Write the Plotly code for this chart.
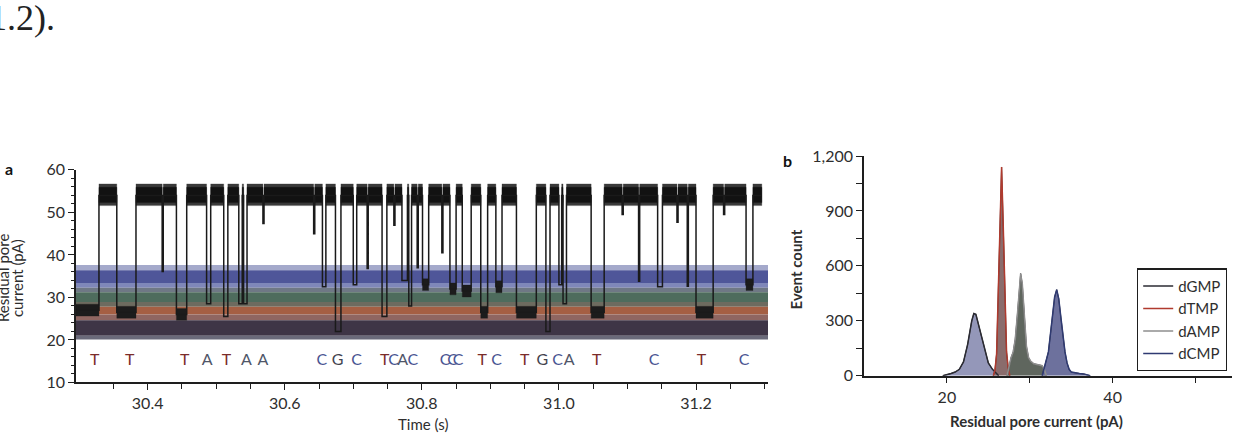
import plotly.graph_objects as go
import numpy as np

# ---------------- Panel a : current trace ----------------
# translocation events (start s, end s, blockade level pA)
ev_start = [30.295, 30.355, 30.442, 30.486, 30.511, 30.533, 30.540, 30.655, 30.674, 30.700,
            30.742, 30.771, 30.781, 30.801, 30.841, 30.859, 30.886, 30.908, 30.938, 30.981,
            31.000, 31.006, 31.047, 31.144, 31.200, 31.273]
ev_end = [30.329, 30.383, 30.457, 30.492, 30.517, 30.538, 30.545, 30.660, 30.682, 30.705,
          30.749, 30.779, 30.785, 30.810, 30.850, 30.872, 30.896, 30.917, 30.967, 30.987,
          31.004, 31.011, 31.066, 31.151, 31.225, 31.283]
ev_level = [27.0, 26.5, 26.0, 28.5, 25.5, 28.5, 28.5, 32.5, 22.0, 33.0,
            25.5, 34.0, 28.0, 33.0, 32.0, 31.5, 26.5, 32.5, 26.5, 22.0,
            33.0, 28.5, 26.5, 32.5, 26.5, 33.0]
# brief partial blockades
dip_time = [30.422, 30.569, 30.643, 30.721, 30.760, 30.794, 30.830, 31.093, 31.117, 31.173, 31.188, 31.241]
dip_level = [36.1, 47.4, 45.0, 36.8, 47.0, 37.0, 40.5, 49.5, 33.8, 47.7, 32.6, 49.5]
open_level = 54.0
open_core = (52.3, 55.9)
open_fringe = (51.6, 56.7)
trace_end = 31.296

# base calls
base_letters = ["T", "T", "T", "A", "T", "A", "A", "C", "G", "C", "T", "C", "A", "C",
                "C", "C", "C", "T", "C", "T", "G", "C", "A", "T", "C", "T", "C"]
base_times = [30.323, 30.374, 30.454, 30.487, 30.515, 30.544, 30.568, 30.654, 30.677, 30.705,
              30.746, 30.759, 30.772, 30.787, 30.834, 30.845, 30.853, 30.888, 30.909, 30.950,
              30.976, 30.998, 31.015, 31.055, 31.139, 31.208, 31.270]
base_y = 15
letter_colors = {"T": "#7a2c2a", "A": "#505668", "C": "#4a5592", "G": "#44444f"}

# coloured current bands (pA)
band_lo = [36.4, 33.4, 32.3, 31.2, 28.9, 27.8, 26.0, 24.6, 21.0, 20.1]
band_hi = [37.6, 36.4, 33.4, 32.3, 31.2, 28.9, 27.8, 26.0, 24.6, 21.0]
band_colors = ["#a4a9cb", "#4f5699", "#7f87b9", "#6f7885", "#4e6c5d",
               "#6d6b5f", "#a55f43", "#8f6661", "#3e3546", "#6a6a7a"]

x_a_ticks = [30.4, 30.6, 30.8, 31.0, 31.2]
x_a_ticktext = ["30.4", "30.6", "30.8", "31.0", "31.2"]
y_a_ticks = [10, 20, 30, 40, 50, 60]

# ---------------- Panel b : histograms ----------------
g_x = [19.5, 20.0, 20.5, 21.0, 21.5, 22.0, 22.5, 23.0, 23.25, 23.5, 24.0, 24.5, 25.0, 25.5, 26.0, 26.25]
g_y = [0, 5, 12, 20, 35, 75, 170, 300, 340, 335, 250, 150, 70, 35, 15, 0]
t_x = [25.6, 25.8, 26.0, 26.2, 26.4, 26.6, 26.8, 27.0, 27.2, 27.4, 27.6]
t_y = [0, 30, 120, 420, 800, 1140, 820, 380, 130, 40, 0]
a_x = [27.25, 27.5, 27.75, 28.0, 28.25, 28.5, 28.75, 28.9, 29.1, 29.35, 29.6, 29.85, 30.1, 30.5, 31.0, 31.5, 31.8, 32.0]
a_y = [0, 60, 100, 130, 200, 330, 500, 558, 500, 300, 160, 100, 80, 65, 62, 55, 30, 0]
c_x = [31.5, 31.75, 32.0, 32.25, 32.5, 32.75, 33.0, 33.25, 33.5, 33.75, 34.0, 34.25, 34.5, 34.75,
       35.0, 35.5, 36.0, 36.5, 37.0, 37.3]
c_y = [0, 40, 80, 130, 230, 340, 430, 470, 420, 320, 220, 130, 70, 35, 20, 15, 12, 10, 6, 0]

names = ["dGMP", "dTMP", "dAMP", "dCMP"]
fill_colors = ["#9497b9", "#8a6c6c", "#5f665e", "#6d719d"]
line_colors = ["#2b2b33", "#b03a2e", "#8e8e8e", "#2f3a72"]

x_b_ticks = [20, 40]
y_b_ticks = [0, 300, 600, 900, 1200]
y_b_ticktext = ["0", "300", "600", "900", "1,200"]

# ---------------------------------------------------------
FONT = "Lato"
TXT = "#2e2e2e"
AX = "#1e1e1e"

fig = go.Figure()

# build the step trace from the events
events = sorted([(s, e, l) for s, e, l in zip(ev_start, ev_end, ev_level)] +
                [(t - 0.0008, t + 0.0008, l) for t, l in zip(dip_time, dip_level)])
xs, ys = [], []
for i, (s, e, l) in enumerate(events):
    if i == 0:
        xs += [s, e, e]
        ys += [l, l, open_level]
    else:
        xs += [s, s, e, e]
        ys += [open_level, l, l, open_level]
xs.append(trace_end)
ys.append(open_level)


def rects(pairs_x, lo, hi):
    px, py = [], []
    for x0, x1 in pairs_x:
        px.extend([x0, x1, x1, x0, x0, None])
        py.extend([lo, lo, hi, hi, lo, None])
    return px, py


open_segs = []
for i, (s, e, l) in enumerate(events):
    nxt = events[i + 1][0] if i + 1 < len(events) else trace_end
    if nxt > e:
        open_segs.append((e, nxt))

# fringe (lighter) and core (dark) of the open-pore noise
for (lo, hi), col in [(open_fringe, "#3a3a3a"), (open_core, "#121212")]:
    px, py = rects(open_segs, lo, hi)
    fig.add_trace(go.Scatter(x=px, y=py, fill="toself", mode="lines", fillcolor=col,
                             line=dict(color=col, width=0.3), showlegend=False,
                             hoverinfo="skip", xaxis="x", yaxis="y"))

# noise blobs for long blockades
ex, ey = [], []
for s, e, l in zip(ev_start, ev_end, ev_level):
    if e - s >= 0.008:
        bx, by = rects([(s, e)], l - 1.4, l + 1.4)
        ex += bx
        ey += by
fig.add_trace(go.Scatter(x=ex, y=ey, fill="toself", mode="lines", fillcolor="#1c1c1c",
                         line=dict(color="#1c1c1c", width=0.3), showlegend=False,
                         hoverinfo="skip", xaxis="x", yaxis="y"))

fig.add_trace(go.Scatter(x=xs, y=ys, mode="lines", line=dict(color="#1a1a1a", width=1.5),
                         showlegend=False, xaxis="x", yaxis="y"))

fig.add_trace(go.Scatter(x=base_times, y=[base_y] * len(base_times), mode="text",
                         text=base_letters,
                         textfont=dict(family=FONT, size=16,
                                       color=[letter_colors[b] for b in base_letters]),
                         showlegend=False, xaxis="x", yaxis="y"))

for lo, hi, c in zip(band_lo, band_hi, band_colors):
    fig.add_shape(type="rect", xref="x domain", yref="y", x0=0, x1=1, y0=lo, y1=hi,
                  fillcolor=c, line=dict(width=0), layer="below")

# histograms
hx = [g_x, t_x, a_x, c_x]
hy = [g_y, t_y, a_y, c_y]
for x, y, fc in zip(hx, hy, fill_colors):
    fig.add_trace(go.Scatter(x=x, y=y, fill="tozeroy", mode="lines", fillcolor=fc,
                             line=dict(color="#333333", width=1.0), showlegend=False,
                             xaxis="x2", yaxis="y2"))
for x, y, n, lc in zip(hx, hy, names, line_colors):
    fig.add_trace(go.Scatter(x=x, y=y, mode="lines", name=n,
                             line=dict(color=lc, width=1.5),
                             xaxis="x2", yaxis="y2"))

axis_common = dict(showline=True, linecolor=AX, linewidth=1.5, ticks="outside", ticklen=6,
                   tickwidth=1.3, tickcolor=AX, showgrid=False, zeroline=False,
                   tickfont=dict(family=FONT, size=16, color=TXT))

fig.update_layout(
    width=1255, height=446,
    margin=dict(l=0, r=0, t=0, b=0),
    paper_bgcolor="white", plot_bgcolor="white",
    font=dict(family=FONT, color=TXT),
    xaxis=dict(domain=[76 / 1255, 768 / 1255], range=[30.2955, 31.305], anchor="y",
               tickvals=x_a_ticks, ticktext=x_a_ticktext,
               minor=dict(tickvals=[round(v, 2) for v in np.arange(30.35, 31.301, 0.05)],
                          ticks="outside", ticklen=5, tickwidth=1.2, tickcolor=AX),
               **axis_common),
    yaxis=dict(domain=[(446 - 389) / 446, (446 - 167) / 446], range=[10, 60], anchor="x",
               tickvals=y_a_ticks,
               minor=dict(dtick=2, ticks="outside", ticklen=3, tickwidth=1.1, tickcolor=AX),
               **axis_common),
    xaxis2=dict(domain=[864 / 1255, 1232 / 1255], range=[10, 54.4], anchor="y2",
                tickvals=x_b_ticks,
                minor=dict(tickvals=[30, 50], ticks="outside", ticklen=6, tickwidth=1.3,
                           tickcolor=AX),
                **axis_common),
    yaxis2=dict(domain=[(446 - 382) / 446, (446 - 152.5) / 446], range=[0, 1200], anchor="x2",
                tickvals=y_b_ticks, ticktext=y_b_ticktext,
                minor=dict(dtick=150, ticks="outside", ticklen=6, tickwidth=1.3, tickcolor=AX),
                **axis_common),
    legend=dict(x=1137 / 1255, y=(446 - 270) / 446, xanchor="left", yanchor="top",
                bgcolor="white", bordercolor="#1e1e1e", borderwidth=1.2,
                font=dict(family=FONT, size=15, color=TXT), itemwidth=30,
                tracegroupgap=0),
)

ann = [
    dict(text="1.2).", x=-13 / 1255, y=1 + 15 / 446, xanchor="left", yanchor="top",
         font=dict(family="Liberation Serif", size=36, color="#222")),
    dict(text="<b>a</b>", x=9 / 1255, y=(446 - 166) / 446, xanchor="center", yanchor="middle",
         font=dict(family=FONT, size=16, color="#111")),
    dict(text="<b>b</b>", x=788 / 1255, y=(446 - 157) / 446, xanchor="center", yanchor="middle",
         font=dict(family=FONT, size=16, color="#111")),
    dict(text="Residual pore", x=3 / 1255, y=(446 - 280) / 446, xanchor="center",
         yanchor="middle", textangle=-90, font=dict(family=FONT, size=15, color=TXT)),
    dict(text="current (pA)", x=17 / 1255, y=(446 - 280) / 446, xanchor="center",
         yanchor="middle", textangle=-90, font=dict(family=FONT, size=15, color=TXT)),
    dict(text="Time (s)", x=423 / 1255, y=(446 - 432) / 446, xanchor="center",
         yanchor="middle", font=dict(family=FONT, size=15, color=TXT)),
    dict(text="<b>Event count</b>", x=796 / 1255, y=(446 - 271) / 446, xanchor="center",
         yanchor="middle", textangle=-90, font=dict(family=FONT, size=15, color=TXT)),
    dict(text="<b>Residual pore current (pA)</b>", x=1036 / 1255, y=(446 - 429) / 446,
         xanchor="center", yanchor="middle", font=dict(family=FONT, size=15, color=TXT)),
]
for a in ann:
    a.update(xref="paper", yref="paper", showarrow=False)
fig.update_layout(annotations=ann)

fig.write_html("out.html")
